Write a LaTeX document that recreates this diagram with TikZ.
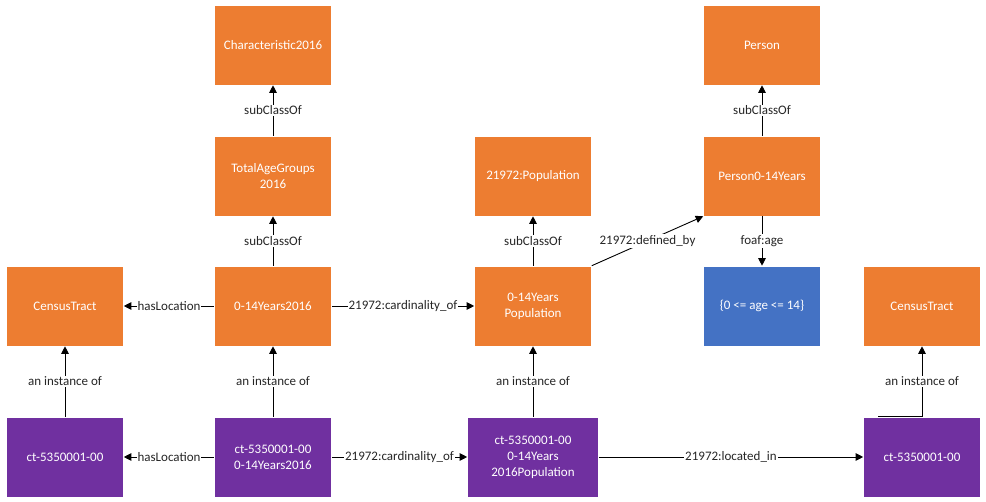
\documentclass[tikz,border=0pt]{standalone}
\usepackage{fontspec}
\setmainfont{Carlito}
\usetikzlibrary{arrows.meta}
\definecolor{orng}{HTML}{ED7D31}
\definecolor{purp}{HTML}{7030A0}
\definecolor{blu}{HTML}{4472C4}
\tikzset{
  box/.style={draw=white, line width=0.6pt, minimum width=117pt, minimum height=80pt, inner sep=2pt,
    text=white, align=center, font=\fontsize{13}{16}\selectfont},
  cls/.style={box, fill=orng},
  inst/.style={box, fill=purp},
  val/.style={box, fill=blu},
  conn/.style={line width=0.9pt, -{Triangle[width=7.5pt,length=7.5pt]}},
  lbl/.style={fill=white, inner sep=1pt, font=\fontsize{13}{15}\selectfont, text=black!85}
}
\begin{document}
\begin{tikzpicture}[x=1pt,y=-1pt]
\useasboundingbox (0,0) rectangle (986,502);
\node[cls] (char) at (273,45) {Characteristic2016};
\node[cls] (tot) at (273,176) {TotalAgeGroups\\2016};
\node[cls] (y014) at (273,306) {0-14Years2016};
\node[cls] (censusL) at (65,306) {CensusTract};
\node[inst] (ctL) at (65,457) {ct-5350001-00};
\node[inst] (ct014) at (273,457) {ct-5350001-00\\0-14Years2016};
\node[cls] (pop21972) at (533,176) {21972:Population};
\node[cls] (pop014) at (533,306) {0-14Years\\Population};
\node[inst, minimum width=131pt] (ctpop) at (533,457) {ct-5350001-00\\0-14Years\\2016Population};
\node[cls] (person) at (762,45) {Person};
\node[cls] (person014) at (762,176) {Person0-14Years};
\node[val] (age) at (762,306) {\{0 <= age <= 14\}};
\node[cls] (censusR) at (922,306) {CensusTract};
\node[inst] (ctR) at (922,457) {ct-5350001-00};

\draw[conn] (tot) -- node[lbl]{subClassOf} (char);
\draw[conn] (y014) -- node[lbl]{subClassOf} (tot);
\draw[conn] (y014) -- node[lbl]{hasLocation} (censusL);
\draw[conn] (y014) -- node[lbl]{21972:cardinality\_of} (pop014);
\draw[conn] (ctL) -- node[lbl]{an instance of} (censusL);
\draw[conn] (ct014) -- node[lbl]{an instance of} (y014);
\draw[conn] (ct014) -- node[lbl]{hasLocation} (ctL);
\draw[conn] (ct014) -- node[lbl]{21972:cardinality\_of} (ctpop);
\draw[conn] (ctpop) -- node[lbl]{an instance of} (pop014);
\draw[conn] (pop014) -- node[lbl]{subClassOf} (pop21972);
\draw[conn] (pop014.north east) -- node[lbl]{21972:defined\_by} (person014.south west);
\draw[conn] (person014) -- node[lbl]{subClassOf} (person);
\draw[conn] (person014) -- node[lbl]{foaf:age} (age);
\draw[conn] (ctpop) -- node[lbl]{21972:located\_in} (ctR);
\draw[conn] ([xshift=-44pt]ctR.north) -- (ctR.north) -- node[lbl]{an instance of} (censusR);
\end{tikzpicture}
\end{document}
